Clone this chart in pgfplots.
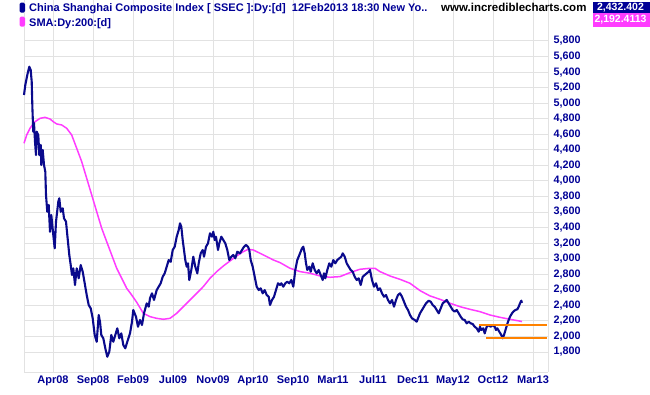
\documentclass[border=0pt]{standalone}
\usepackage{fontspec}
\setmainfont{Liberation Sans}
\usepackage{pgfplots}
\pgfplotsset{compat=1.18}
\definecolor{navy}{RGB}{0,0,150}
\definecolor{ssec}{RGB}{10,10,140}
\definecolor{sma}{RGB}{255,60,255}
\definecolor{gridgray}{RGB}{226,226,226}
\definecolor{orangeln}{RGB}{255,130,0}
\begin{document}
\begin{tikzpicture}[x=1pt,y=1pt]
\useasboundingbox (0,0) rectangle (650,394);
\begin{axis}[
  at={(24pt,22pt)}, anchor=south west,
  scale only axis, width=524pt, height=372pt,
  xmin=24, xmax=548, ymin=1543, ymax=6327,
  axis x line*=bottom, axis y line*=box,
  axis line style={draw=gridgray, line width=1pt},
  xtick={53,93,133,173,213,253,293,333,373,413,453,493,533},
  xticklabels={Apr08,Sep08,Feb09,Jul09,Nov09,Apr10,Sep10,Mar11,Jul11,Dec11,May12,Oct12,Mar13},
  ytick={1800,2000,...,5800},
  grid=major, major grid style={draw=gridgray, line width=1pt},
  major tick length=0pt,
  yticklabel pos=right,
  /pgf/number format/assume math mode=true,
  /pgf/number format/1000 sep={,},
  yticklabel style={font=\bfseries\fontsize{10.8}{12}\selectfont, text=navy, anchor=west, xshift=2pt},
  xticklabel style={font=\bfseries\fontsize{11}{12}\selectfont, text=navy},
  clip=false,
]
% SMA 200
\addplot[sma, line width=1.5pt] coordinates {
(24,4484)(26.7,4591)(30,4677)(35,4762)(40,4805)(45,4818)(50,4797)(53.3,4762)(56.7,4733)(61.7,4720)(66.7,4677)(71.7,4591)(76.7,4420)(81.7,4248)(86.7,4034)(91.7,3820)(96.7,3605)(101.7,3391)(106.7,3219)(111.7,3048)(116.7,2877)(121.7,2748)(126.7,2619)(131.7,2533)(136.7,2440)(143.3,2298)(150,2255)(156.7,2233)(163.3,2221)(170,2233)(176.7,2298)(183.3,2383)(190,2469)(196.7,2555)(203.3,2641)(210,2748)(216.7,2834)(223.3,2906)(230,2971)(236.7,3036)(243.3,3091)(248.3,3121)(253.3,3112)(260,3070)(266.7,3027)(273.3,2984)(280,2950)(290,2877)(300,2834)(310,2813)(320,2778)(330,2761)(340,2770)(350,2821)(360,2864)(370,2877)(375,2877)(380,2834)(390,2778)(400,2735)(410,2684)(420,2590)(430,2521)(440,2478)(450,2427)(460,2383)(470,2349)(480,2319)(490,2276)(500,2246)(510,2221)(516.7,2205)(522,2192)
};
% SSEC daily
\addplot[ssec, line width=2.1pt, line join=round] coordinates {
(24,5105)(25.3,5234)(27.3,5363)(29.3,5469)(30.7,5427)(31.7,5277)(32.4,4938)(33.0,4720)(33.3,4633)(34,4745)(35,4505)(36,4334)(36.7,4633)(38.3,4591)(39.3,4334)(40.7,4462)(41.3,4205)(42.7,4398)(44,4205)(45.3,4119)(46,3819)(47.3,3604)(48.7,3691)(50,3347)(51.3,3562)(53.3,3305)(54.7,3134)(56,3476)(58.3,3733)(59.3,3777)(60.7,3604)(62.7,3648)(64,3520)(66,3476)(67.3,3305)(69.3,3048)(70.7,2919)(72,2790)(73.3,2876)(75,2662)(76.7,2876)(78.7,2748)(80.7,2919)(82.7,2833)(85,2662)(86.7,2533)(88.7,2404)(90.7,2362)(92.7,2233)(94.7,2019)(96.7,1932)(98.7,2276)(100,2190)(101.3,2019)(103.3,1976)(105.3,1848)(107.3,1739)(109.3,1804)(111.3,2019)(113.3,1932)(115.3,2019)(117.3,2105)(119.3,1976)(121.3,2040)(123.3,1890)(125.3,1848)(127.3,1932)(130,2040)(132,2190)(133.3,2340)(136,2254)(138,2125)(140,2212)(142,2147)(144,2298)(146.7,2426)(148.7,2383)(150,2491)(152,2555)(154,2469)(156.7,2597)(158.7,2640)(160.7,2684)(162.7,2768)(164.7,2812)(166.7,2897)(168.7,2983)(170.7,2960)(172.7,3112)(174.7,3154)(176.7,3283)(178.7,3369)(180,3455)(181.3,3412)(182.7,3240)(184,3112)(185.3,2983)(186.7,2897)(188,2941)(189.3,2726)(191.3,2855)(193.3,3026)(195.3,2897)(197.3,2812)(198.7,2941)(200.7,3069)(202.7,3112)(204,3026)(206,3154)(208,3198)(210,3327)(212,3283)(213.3,3347)(214.7,3240)(216,3283)(218,3112)(219.3,3198)(221.3,3283)(223.3,3240)(225.3,3198)(227.3,3112)(229.3,2983)(231.3,3026)(233.3,3048)(235.3,3005)(237.3,3090)(240,3069)(242,3112)(244,3154)(246,3176)(248,3154)(249.3,3112)(250.7,2983)(252.7,2897)(254.7,2768)(256.7,2640)(258.7,2597)(260.7,2619)(262.7,2555)(264.7,2597)(266.7,2533)(268.7,2511)(270,2404)(272,2469)(274,2511)(276,2597)(278,2684)(280,2662)(281.3,2684)(283.3,2640)(285.3,2684)(287.3,2704)(289.3,2684)(291.3,2726)(293.3,2640)(295.3,2855)(297.3,2983)(300,3069)(302,3134)(303.3,3154)(304.7,3069)(306,2941)(307.3,2855)(309.3,2897)(310.7,2833)(312.7,2941)(314.7,2855)(316.7,2812)(318.7,2855)(320.7,2790)(322.7,2726)(324,2812)(325.3,2748)(327.3,2855)(329.3,2941)(331.3,2897)(333.3,2983)(335.3,2941)(337.3,2983)(339.3,3005)(341.3,3026)(342.7,3069)(344.7,3026)(346.7,2941)(348.7,2897)(350.7,2855)(352.7,2833)(354.7,2768)(356.7,2726)(358.7,2748)(360.7,2662)(362.7,2768)(364.7,2790)(366.7,2812)(368.7,2833)(370,2855)(372,2726)(374,2640)(376,2684)(378,2597)(380,2619)(382,2555)(384,2511)(386,2533)(388,2469)(390,2426)(392,2469)(394,2383)(396,2469)(398,2533)(400,2555)(402,2511)(404,2447)(406,2383)(408,2340)(410,2276)(412,2233)(414.7,2212)(416.7,2190)(418,2233)(420,2298)(422,2340)(424,2383)(426,2426)(428.7,2460)(430.7,2447)(432.7,2404)(434.7,2383)(436.7,2340)(438.7,2298)(440.7,2362)(442.7,2426)(444.7,2447)(446.7,2469)(448.7,2426)(450.7,2383)(452.7,2340)(454.7,2319)(456.7,2340)(458.7,2298)(460.7,2254)(462.7,2220)(464.7,2212)(466.7,2169)(468.7,2190)(470.7,2169)(472.7,2160)(474.7,2125)(476.7,2105)(478.7,2061)(480,2125)(481.3,2083)(483.3,2105)(484.7,2040)(486.7,2125)(488.7,2147)(490.7,2125)(492.7,2147)(494.7,2125)(496,2083)(497.3,2105)(499.3,2061)(501.3,2019)(502.7,1976)(504,2019)(506,2105)(508,2190)(510,2254)(512,2298)(513.3,2319)(515.3,2340)(517.3,2349)(518.7,2383)(520,2426)(521.3,2460)(522,2432)
};
% support / resistance lines
\addplot[orangeln, line width=1.8pt] coordinates {(479,2150)(547,2150)};
\addplot[orangeln, line width=1.8pt] coordinates {(486,1985)(547,1985)};
\end{axis}
% header
\fill[navy, rounded corners=1.5pt] (19.5,391.3) rectangle (25,381.3);
\node[anchor=base west, inner sep=0pt, text=navy, font=\bfseries\fontsize{11}{12}\selectfont] at (29,382.3) {China Shanghai Composite Index [ SSEC ]:Dy:[d]\ \ 12Feb2013 18:30 New Yo..};
\fill[sma, rounded corners=1.5pt] (19.5,377.3) rectangle (25,367.3);
\node[anchor=base west, inner sep=0pt, text=navy, font=\bfseries\fontsize{11}{12}\selectfont] at (29,367.3) {SMA:Dy:200:[d]};
\node[anchor=base west, inner sep=0pt, text=black, font=\bfseries\fontsize{11.5}{12}\selectfont] at (441,382.3) {www.incrediblecharts.com};
\fill[navy] (593,392.3) rectangle (650,381);
\node[text=white, inner sep=0pt, font=\bfseries\fontsize{10.5}{12}\selectfont] at (620.5,386.6) {2,432.402};
\fill[sma] (593,381) rectangle (650,367.3);
\node[text=white, inner sep=0pt, font=\bfseries\fontsize{10.5}{12}\selectfont] at (620.5,374.1) {2,192.4113};
\end{tikzpicture}
\end{document}
